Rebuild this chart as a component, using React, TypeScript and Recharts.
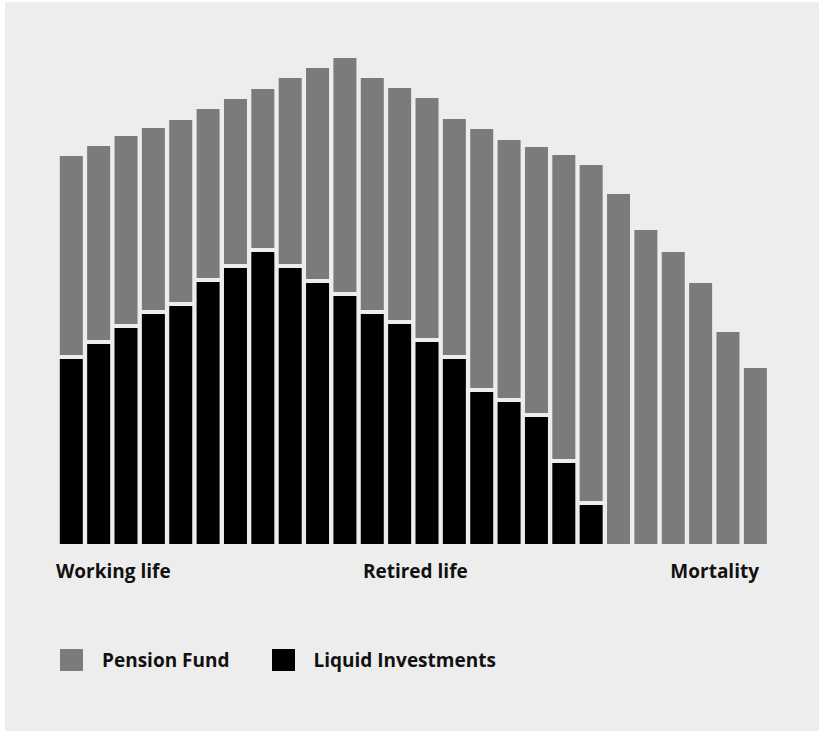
import { BarChart, Bar, XAxis, YAxis, Legend } from "recharts";

// Stages of life along the horizontal axis (one bar each).
const stages = [
  "1", "2", "3", "4", "5", "6", "7", "8", "9", "10", "11", "12", "13",
  "14", "15", "16", "17", "18", "19", "20", "21", "22", "23", "24", "25", "26",
];

const liquidInvestments = [
  185, 200, 216, 230, 238, 262, 276, 292, 276, 261, 248, 230, 220,
  202, 185, 152, 142, 127, 81, 39, 0, 0, 0, 0, 0, 0,
];

const pensionFund = [
  203, 198, 192, 186, 186, 173, 169, 163, 190, 215, 238, 236, 236,
  244, 240, 263, 262, 270, 308, 340, 350, 314, 292, 261, 212, 176,
];

const seriesNames = ["Pension Fund", "Liquid Investments"];
const phaseLabels = ["Working life", "Retired life", "Mortality"];
const phaseTickIndex = [0, 12, 25];

const GRAY = "#7b7b7b";
const BLACK = "#000000";
const PANEL = "#ededed";
const FONT = "'Open Sans', sans-serif";

const data = stages.map((stage, i) => ({
  stage,
  liquid: liquidInvestments[i],
  pension: pensionFund[i],
}));

// Pension block sits on the liquid block with a small gap between them.
function PensionShape(props: any) {
  const { x, y, width, height, fill, payload } = props;
  const gap = payload && payload.liquid > 0 ? 4 : 0;
  return <rect x={x} y={y} width={width} height={Math.max(0, height - gap)} fill={fill} />;
}

function PhaseTick(props: any) {
  const { x, y, payload } = props;
  const i = phaseTickIndex.indexOf(payload.index);
  if (i < 0) return <g />;
  const last = phaseTickIndex.length - 1;
  const anchor = i === 0 ? "start" : i === last ? "end" : "middle";
  const dx = i === 0 ? -15.5 : i === last ? 3.5 : 15.5;
  return (
    <text
      x={x + dx}
      y={y + 34}
      textAnchor={anchor}
      fill="#111"
      style={{ fontFamily: FONT, fontWeight: 700, fontSize: 19 }}
    >
      {phaseLabels[i]}
    </text>
  );
}

function LegendContent(props: any) {
  const items = [...(props.payload ?? [])].sort(
    (a: any, b: any) => seriesNames.indexOf(a.value) - seriesNames.indexOf(b.value)
  );
  return (
    <div style={{ display: "flex", alignItems: "center" }}>
      {items.map((item: any) => (
        <div key={item.value} style={{ display: "flex", alignItems: "center", marginRight: 42 }}>
          <span style={{ width: 23, height: 22, background: item.color, marginRight: 19, display: "inline-block" }} />
          <span style={{ fontFamily: FONT, fontWeight: 700, fontSize: 19, color: "#111" }}>{item.value}</span>
        </div>
      ))}
    </div>
  );
}

export default function App() {
  return (
    <div style={{ position: "absolute", left: 5, top: 2, width: 814, height: 729, background: PANEL }}>
      <BarChart
        width={814}
        height={729}
        data={data}
        margin={{ top: 52, right: 49.8, bottom: 157, left: 52.8 }}
      >
        <XAxis
          dataKey="stage"
          interval={0}
          axisLine={false}
          tickLine={false}
          tickSize={0}
          tickMargin={0}
          height={30}
          tick={<PhaseTick />}
        />
        <YAxis hide domain={[0, 490]} />
        <Legend
          verticalAlign="middle"
          align="center"
          layout="horizontal"
          content={<LegendContent />}
          wrapperStyle={{ left: 55, top: 645, width: 600 }}
        />
        <Bar
          dataKey="liquid"
          name={seriesNames[1]}
          stackId="a"
          fill={BLACK}
          barSize={23}
          isAnimationActive={false}
        />
        <Bar
          dataKey="pension"
          name={seriesNames[0]}
          stackId="a"
          fill={GRAY}
          barSize={23}
          shape={<PensionShape />}
          isAnimationActive={false}
        />
      </BarChart>
    </div>
  );
}
